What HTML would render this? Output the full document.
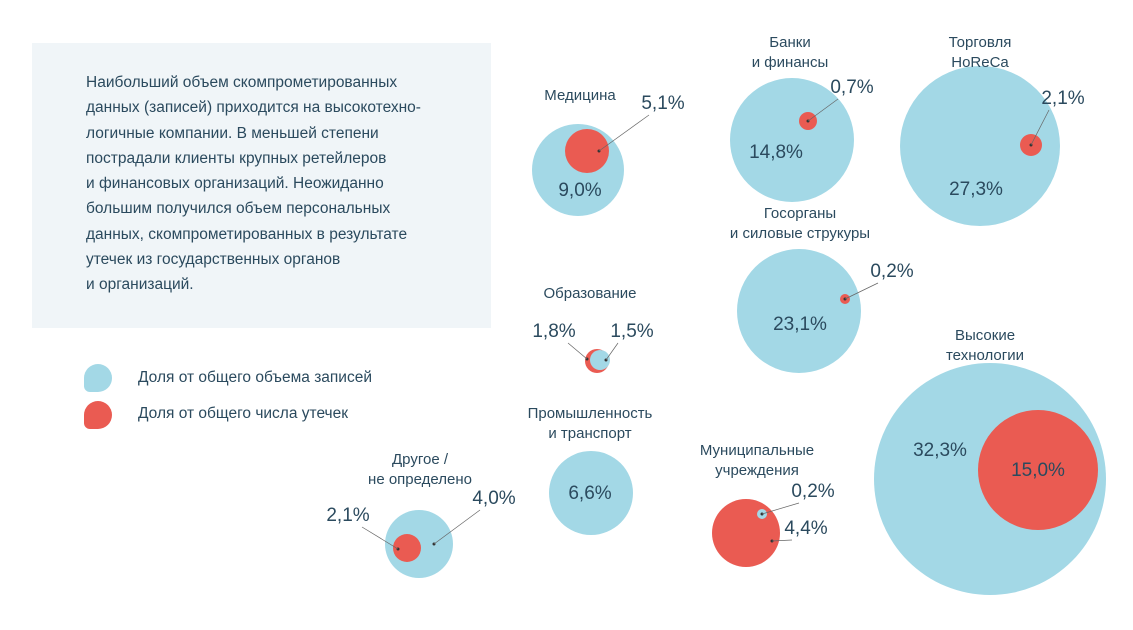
<!DOCTYPE html>
<html><head><meta charset="utf-8">
<style>
body{margin:0;width:1133px;height:630px;background:#fff;overflow:hidden;font-family:"Liberation Sans","DejaVu Sans",sans-serif;color:#2b4a5e;position:relative}
#box{position:absolute;left:32px;top:43px;width:459px;height:285px;background:#f0f5f8}
#box p{margin:0;position:absolute;left:54px;top:27px;font-size:15.5px;line-height:25.3px;color:#2b4a5e}
.leg{position:absolute;left:84px;width:28px;height:28px;border-radius:50% 50% 50% 6px}
.legt{position:absolute;left:138px;font-size:15.5px}
svg{position:absolute;left:0;top:0}
</style></head><body>
<div id="box"><p>Наибольший объем скомпрометированных<br>данных (записей) приходится на высокотехно-<br>логичные компании. В меньшей степени<br>пострадали клиенты крупных ретейлеров<br>и финансовых организаций. Неожиданно<br>большим получился объем персональных<br>данных, скомпрометированных в результате<br>утечек из государственных органов<br>и организаций.</p></div>
<div class="leg" style="top:364px;background:#a3d8e6"></div>
<div class="legt" style="top:369px">Доля от общего объема записей</div>
<div class="leg" style="top:401px;background:#ea5b52"></div>
<div class="legt" style="top:405px">Доля от общего числа утечек</div>
<svg id="chart" width="1133" height="630"></svg>
<script>
const categories=["Медицина","Банки\nи финансы","Торговля\nHoReCa","Госорганы\nи силовые струкуры","Образование","Промышленность\nи транспорт","Муниципальные\nучреждения","Другое /\nне определено","Высокие\nтехнологии"];
const recordShare=[9.0,14.8,27.3,23.1,1.5,6.6,0.2,4.0,32.3];
const leakShare=[5.1,0.7,2.1,0.2,1.8,null,4.4,2.1,15.0];
// layout (positions/sizes, not data)
const L=[
 {bx:578,by:170,br:46,rx:587,ry:151,rr:22,tx:580,ty:100,bl:[580,196],rl:[663,109],rd:[599,151]},
 {bx:792,by:140,br:62,rx:808,ry:121,rr:9,tx:790,ty:47,bl:[776,158],rl:[852,93],rd:[808,121]},
 {bx:980,by:146,br:80,rx:1031,ry:145,rr:11,tx:980,ty:47,bl:[976,195],rl:[1063,104],rd:[1031,145]},
 {bx:799,by:311,br:62,rx:845,ry:299,rr:5,tx:800,ty:218,bl:[800,330],rl:[892,277],rd:[845,299]},
 {bx:600,by:360,br:10,rx:597,ry:361,rr:12,tx:590,ty:298,bl:[632,337],rl:[554,337],bd:[606,360],rd:[587,359],order:"rb"},
 {bx:591,by:493,br:42,tx:590,ty:418,bl:[590,499]},
 {bx:762,by:514,br:5,rx:746,ry:533,rr:34,tx:757,ty:455,bl:[813,497],rl:[806,534],bd:[762,514],rd:[772,541],order:"rb"},
 {bx:419,by:544,br:34,rx:407,ry:548,rr:14,tx:420,ty:464,bl:[494,504],rl:[348,521],bd:[434,544],rd:[398,549]},
 {bx:990,by:479,br:116,rx:1038,ry:470,rr:60,tx:985,ty:340,bl:[940,456],rl:[1038,476]}
];
const svg=document.getElementById('chart');const NS="http://www.w3.org/2000/svg";
function el(t,a){const e=document.createElementNS(NS,t);for(const k in a)e.setAttribute(k,a[k]);svg.appendChild(e);return e;}
function fmt(v){return v.toFixed(1).replace('.',',')+'%';}
function circ(x,y,r,c,name){const e=el('circle',{cx:x,cy:y,r:r,fill:c});

}
function txt(x,y,s,size,name){const e=el('text',{x:x,y:y,'font-size':size,'text-anchor':'middle',fill:'#2b4a5e','font-family':'Liberation Sans, DejaVu Sans, sans-serif'});e.textContent=s;

}
function leader(d,l,name){el('circle',{cx:d[0],cy:d[1],r:1.5,fill:'#333'});
const e=el('line',{x1:d[0],y1:d[1],x2:l[0]-(l[0]>d[0]?14:-14),y2:l[1]+6,stroke:'#666','stroke-width':0.7});

}
categories.forEach((c,i)=>{const p=L[i];
 const drawB=()=>circ(p.bx,p.by,p.br,'#a3d8e6','bubble-records-'+i);
 const drawR=()=>{if(leakShare[i]!=null)circ(p.rx,p.ry,p.rr,'#ea5b52','bubble-leaks-'+i);};
 if(p.order==="rb"){drawR();drawB();}else{drawB();drawR();}
 c.split('\n').forEach((ln,j)=>txt(p.tx,p.ty+j*20,ln,15,'category-label-'+i));
 txt(p.bl[0],p.bl[1],fmt(recordShare[i]),19,'records-value-'+i);
 if(p.bd)leader(p.bd,p.bl,'records-leader-'+i);
 if(leakShare[i]!=null){txt(p.rl[0],p.rl[1],fmt(leakShare[i]),19,'leaks-value-'+i);
  if(p.rd)leader(p.rd,p.rl,'leaks-leader-'+i);}
});
</script>
</body></html>
